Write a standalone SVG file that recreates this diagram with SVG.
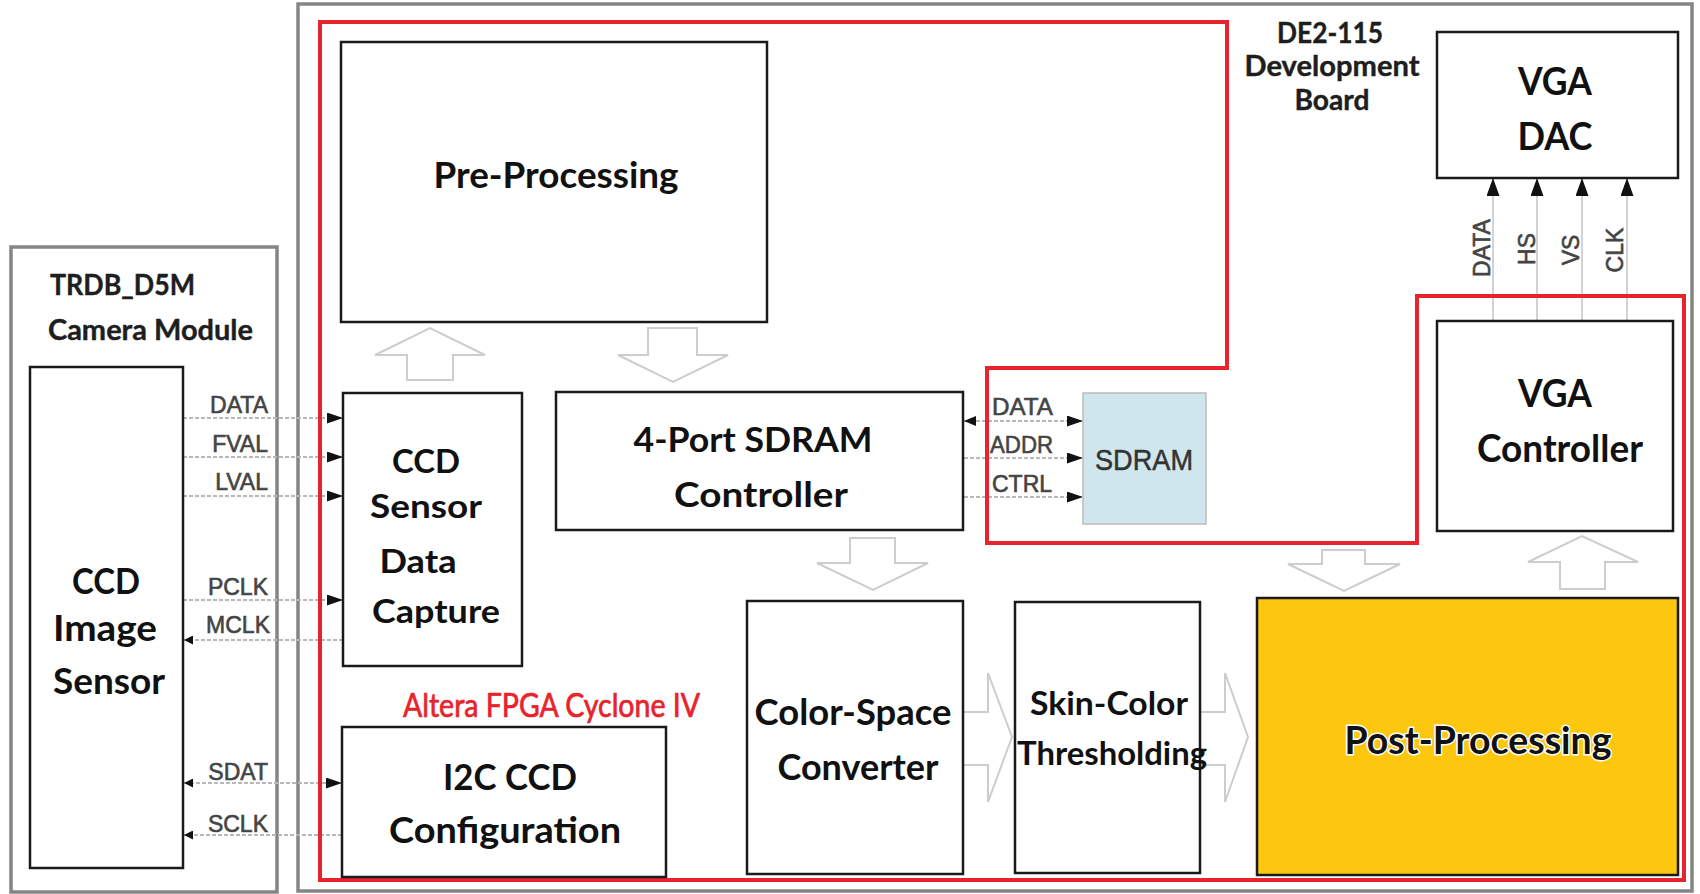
<svg xmlns="http://www.w3.org/2000/svg" width="1700" height="894" viewBox="0 0 1700 894">
  <style>
    .frame { fill: none; stroke: #858585; stroke-width: 3.5; }
    .fpga { fill: none; stroke: #e8232b; stroke-width: 4; }
    .box { fill: #ffffff; stroke: #1a1a1a; stroke-width: 2.5; }
    .lbl { font-family: Lato, "Liberation Sans", sans-serif; font-weight: 700; fill: #111111; text-anchor: middle; }
    .title { font-family: Lato, "Liberation Sans", sans-serif; font-weight: 700; fill: #1e1e1e; stroke: #1e1e1e; stroke-width: 0.4; }
    .sig { font-family: "Liberation Sans", Arial, sans-serif; font-size: 23px; fill: #444444; stroke: #444444; stroke-width: 0.6; }
    .wire { stroke: #b8b8b8; stroke-width: 1.8; stroke-dasharray: 4 2; fill: none; }
    .vwire { stroke: #c4c4c4; stroke-width: 1.5; fill: none; }
    .flow { fill: #ffffff; stroke: #cdcdcd; stroke-width: 2; stroke-linejoin: miter; }
  </style>
  <defs>
    <marker id="ah" viewBox="0 0 16 11" refX="16" refY="5.5" markerWidth="16" markerHeight="11" markerUnits="userSpaceOnUse" orient="auto-start-reverse">
      <path d="M0,0 L16,5.5 L0,11 Z" fill="#111111"/>
    </marker>
    <marker id="ahm" viewBox="0 0 12 10" refX="12" refY="5" markerWidth="12" markerHeight="10" markerUnits="userSpaceOnUse" orient="auto-start-reverse">
      <path d="M0,0 L12,5 L0,10 Z" fill="#111111"/>
    </marker>
    <marker id="ahs" viewBox="0 0 9 9" refX="9" refY="4.5" markerWidth="9" markerHeight="9" markerUnits="userSpaceOnUse" orient="auto-start-reverse">
      <path d="M0,0 L9,4.5 L0,9 Z" fill="#111111"/>
    </marker>
    <marker id="ahv" viewBox="0 0 13 18" refX="6.5" refY="0" markerWidth="13" markerHeight="18" markerUnits="userSpaceOnUse" orient="0">
      <path d="M6.5,0 L13,18 L0,18 Z" fill="#111111"/>
    </marker>
  </defs>

  <rect width="1700" height="894" fill="#ffffff"/>

  <!-- board and camera module frames -->
  <g id="frames">
    <rect class="frame" x="11" y="247" width="266" height="645"/>
    <text class="title" x="50" y="295" font-size="29" textLength="145" lengthAdjust="spacingAndGlyphs">TRDB_D5M</text>
    <text class="title" x="48" y="340" font-size="29" textLength="205" lengthAdjust="spacingAndGlyphs">Camera Module</text>
    <rect class="frame" x="298" y="4" width="1394" height="887"/>
    <text class="title" x="1330" y="43" font-size="29" text-anchor="middle" textLength="106" lengthAdjust="spacingAndGlyphs">DE2-115</text>
    <text class="title" x="1332" y="76" font-size="29" text-anchor="middle" textLength="175" lengthAdjust="spacingAndGlyphs">Development</text>
    <text class="title" x="1332" y="110" font-size="29" text-anchor="middle" textLength="75" lengthAdjust="spacingAndGlyphs">Board</text>
  </g>

  <!-- connectors: signal wires and data-flow arrows -->
  <g id="connectors">
    <!-- sensor to capture / I2C -->
    <line class="wire" x1="183" y1="418" x2="343" y2="418" marker-end="url(#ah)"/>
    <line class="wire" x1="183" y1="457" x2="343" y2="457" marker-end="url(#ah)"/>
    <line class="wire" x1="183" y1="496" x2="343" y2="496" marker-end="url(#ah)"/>
    <line class="wire" x1="183" y1="600" x2="343" y2="600" marker-end="url(#ah)"/>
    <line class="wire" x1="343" y1="640" x2="184" y2="640" marker-end="url(#ahs)"/>
    <line class="wire" x1="184" y1="783" x2="342" y2="783" marker-start="url(#ahs)" marker-end="url(#ah)"/>
    <line class="wire" x1="342" y1="835" x2="184" y2="835" marker-end="url(#ahs)"/>
    <text class="sig" x="268" y="413" text-anchor="end">DATA</text>
    <text class="sig" x="268" y="452" text-anchor="end">FVAL</text>
    <text class="sig" x="268" y="490" text-anchor="end">LVAL</text>
    <text class="sig" x="268" y="595" text-anchor="end">PCLK</text>
    <text class="sig" x="270" y="633" text-anchor="end">MCLK</text>
    <text class="sig" x="268" y="780" text-anchor="end">SDAT</text>
    <text class="sig" x="268" y="832" text-anchor="end">SCLK</text>

    <!-- SDRAM controller to SDRAM -->
    <line class="wire" x1="964" y1="421" x2="1083" y2="421" marker-start="url(#ahm)" marker-end="url(#ah)"/>
    <line class="wire" x1="964" y1="458" x2="1083" y2="458" marker-end="url(#ah)"/>
    <line class="wire" x1="964" y1="497" x2="1083" y2="497" marker-end="url(#ah)"/>
    <text class="sig" x="992" y="415" textLength="61" lengthAdjust="spacingAndGlyphs">DATA</text>
    <text class="sig" x="990" y="453" textLength="63" lengthAdjust="spacingAndGlyphs">ADDR</text>
    <text class="sig" x="992" y="492" textLength="60" lengthAdjust="spacingAndGlyphs">CTRL</text>

    <!-- VGA controller to VGA DAC -->
    <line class="vwire" x1="1493" y1="322" x2="1493" y2="178" marker-end="url(#ahv)"/>
    <line class="vwire" x1="1537" y1="322" x2="1537" y2="178" marker-end="url(#ahv)"/>
    <line class="vwire" x1="1582" y1="322" x2="1582" y2="178" marker-end="url(#ahv)"/>
    <line class="vwire" x1="1627" y1="322" x2="1627" y2="178" marker-end="url(#ahv)"/>
    <text class="sig" font-size="24" text-anchor="middle" transform="translate(1490,248) rotate(-90)">DATA</text>
    <text class="sig" font-size="24" text-anchor="middle" transform="translate(1535,249) rotate(-90)">HS</text>
    <text class="sig" font-size="24" text-anchor="middle" transform="translate(1579,250) rotate(-90)">VS</text>
    <text class="sig" font-size="24" text-anchor="middle" transform="translate(1623,250) rotate(-90)">CLK</text>

    <!-- hollow data-flow arrows -->
    <path class="flow" d="M407,380 V355 H375 L430,328 L485,355 H453 V380 Z"/>
    <path class="flow" d="M648,328 V355 H618 L673,382 L728,355 H697 V328 Z"/>
    <path class="flow" d="M850,538 V563 H817 L873,590 L928,563 H895 V538 Z"/>
    <path class="flow" d="M1322,550 V564 H1288 L1344,591 L1400,564 H1365 V550 Z"/>
    <path class="flow" d="M1560,589 V562 H1528 L1582,536 L1638,562 H1605 V589 Z"/>
    <path class="flow" d="M964,712 H988 V673 L1012,737 L988,802 V765 H964"/>
    <path class="flow" d="M1201,712 H1225 V673 L1248,737 L1225,802 V765 H1201"/>
  </g>

  <!-- FPGA boundary -->
  <g id="fpga">
    <path class="fpga" d="M320,22 H1227 V368 H987 V543 H1417 V296 H1684 V880 H320 Z"/>
    <text x="403" y="717" font-family="Lato, 'Liberation Sans', sans-serif" font-size="32" fill="#e8232b" stroke="#e8232b" stroke-width="0.7" textLength="297" lengthAdjust="spacingAndGlyphs">Altera FPGA Cyclone IV</text>
  </g>

  <g id="ccd-image-sensor">
    <rect class="box" x="30" y="367" width="153" height="501"/>
    <text class="lbl" x="106" y="594" font-size="36" textLength="68" lengthAdjust="spacingAndGlyphs">CCD</text>
    <text class="lbl" x="105" y="641" font-size="36" textLength="104" lengthAdjust="spacingAndGlyphs">Image</text>
    <text class="lbl" x="109" y="694" font-size="36" textLength="112" lengthAdjust="spacingAndGlyphs">Sensor</text>
  </g>

  <g id="pre-processing">
    <rect class="box" x="341" y="42" width="426" height="280"/>
    <text class="lbl" x="556" y="188" font-size="37" textLength="245" lengthAdjust="spacingAndGlyphs">Pre-Processing</text>
  </g>

  <g id="ccd-data-capture">
    <rect class="box" x="343" y="393" width="179" height="273"/>
    <text class="lbl" x="426" y="473" font-size="33" textLength="68" lengthAdjust="spacingAndGlyphs">CCD</text>
    <text class="lbl" x="426" y="518" font-size="33" textLength="112" lengthAdjust="spacingAndGlyphs">Sensor</text>
    <text class="lbl" x="418" y="573" font-size="33" textLength="77" lengthAdjust="spacingAndGlyphs">Data</text>
    <text class="lbl" x="436" y="623" font-size="33" textLength="128" lengthAdjust="spacingAndGlyphs">Capture</text>
  </g>

  <g id="sdram-controller">
    <rect class="box" x="556" y="392" width="407" height="138"/>
    <text class="lbl" x="753" y="452" font-size="35" textLength="239" lengthAdjust="spacingAndGlyphs">4-Port SDRAM</text>
    <text class="lbl" x="761" y="507" font-size="35" textLength="174" lengthAdjust="spacingAndGlyphs">Controller</text>
  </g>

  <g id="sdram">
    <rect x="1083" y="393" width="123" height="131" fill="#cfe6ec" stroke="#bcbcbc" stroke-width="1.5"/>
    <text x="1144" y="470" font-family="'Liberation Sans', Arial, sans-serif" font-size="30" fill="#333333" stroke="#333333" stroke-width="0.5" text-anchor="middle" textLength="98" lengthAdjust="spacingAndGlyphs">SDRAM</text>
  </g>

  <g id="i2c-config">
    <rect class="box" x="342" y="727" width="324" height="150"/>
    <text class="lbl" x="510" y="790" font-size="37" textLength="134" lengthAdjust="spacingAndGlyphs">I2C CCD</text>
    <text class="lbl" x="505" y="843" font-size="37" textLength="232" lengthAdjust="spacingAndGlyphs">Configuration</text>
  </g>

  <g id="color-space-converter">
    <rect class="box" x="747" y="601" width="216" height="273"/>
    <text class="lbl" x="853" y="725" font-size="36" textLength="197" lengthAdjust="spacingAndGlyphs">Color-Space</text>
    <text class="lbl" x="858" y="780" font-size="36" textLength="161" lengthAdjust="spacingAndGlyphs">Converter</text>
  </g>

  <g id="skin-color-thresholding">
    <rect class="box" x="1015" y="602" width="185" height="271"/>
    <text class="lbl" x="1109" y="715" font-size="33" textLength="158" lengthAdjust="spacingAndGlyphs">Skin-Color</text>
    <text class="lbl" x="1112" y="765" font-size="33" textLength="190" lengthAdjust="spacingAndGlyphs">Thresholding</text>
  </g>

  <g id="post-processing">
    <rect x="1257" y="598" width="421" height="277" fill="#fdc70f" stroke="#1a1a1a" stroke-width="2.5"/>
    <text class="lbl" x="1478" y="754" font-size="38" stroke="#ffffff" stroke-width="3" paint-order="stroke" textLength="267" lengthAdjust="spacingAndGlyphs">Post-Processing</text>
  </g>

  <g id="vga-controller">
    <rect class="box" x="1437" y="321" width="236" height="210"/>
    <text class="lbl" x="1555" y="407" font-size="38" textLength="74" lengthAdjust="spacingAndGlyphs">VGA</text>
    <text class="lbl" x="1560" y="462" font-size="38" textLength="166" lengthAdjust="spacingAndGlyphs">Controller</text>
  </g>

  <g id="vga-dac">
    <rect class="box" x="1437" y="32" width="241" height="146"/>
    <text class="lbl" x="1555" y="95" font-size="38" textLength="74" lengthAdjust="spacingAndGlyphs">VGA</text>
    <text class="lbl" x="1555" y="150" font-size="38" textLength="75" lengthAdjust="spacingAndGlyphs">DAC</text>
  </g>
</svg>
